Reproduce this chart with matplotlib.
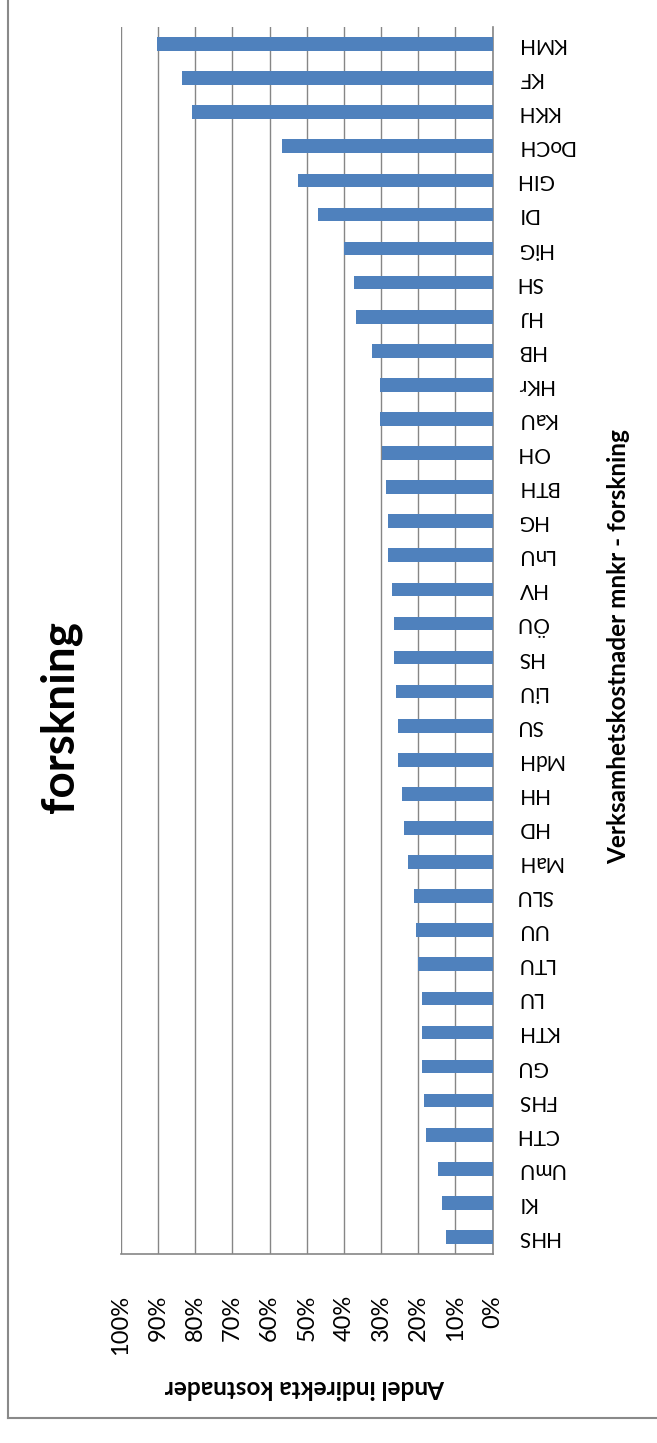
import matplotlib.pyplot as plt
from matplotlib.lines import Line2D
from matplotlib.ticker import MultipleLocator, PercentFormatter

plt.rcParams['font.family'] = ['Lato', 'DejaVu Sans']

# larosaten, nerifran och upp (HHS langst ner)
larosaten = ['HHS', 'KI', 'UmU', 'CTH', 'FHS', 'GU', 'KTH', 'LU', 'LTU', 'UU',
             'SLU', 'MaH', 'HD', 'HH', 'MdH', 'SU', 'LiU', 'HS', 'ÖU', 'HV',
             'LnU', 'HG', 'BTH', 'OH', 'KaU', 'HKr', 'HB', 'HJ', 'SH', 'HiG',
             'DI', 'GIH', 'DoCH', 'KKH', 'KF', 'KMH']
andel = [12.5, 13.6, 14.6, 17.9, 18.5, 19.0, 19.0, 19.0, 20.0, 20.6,
         21.1, 22.8, 23.9, 24.3, 25.5, 25.5, 25.9, 26.5, 26.5, 27.1,
         28.2, 28.2, 28.7, 29.8, 30.2, 30.2, 32.4, 36.7, 37.3, 39.9,
         47.0, 52.4, 56.6, 80.9, 83.6, 90.3]

W, H = 657, 1443
fig = plt.figure(figsize=(W / 100, H / 100), dpi=100)
ax = fig.add_axes([120.8 / W, 189 / H, 371.8 / W, 1227 / H])

grey = '#868686'
ax.barh(range(len(larosaten)), andel, height=0.4, color='#4F81BD', zorder=3)

ax.set_xlim(100, 0)
ax.set_ylim(-0.5, len(larosaten) - 0.5)
ax.xaxis.set_major_locator(MultipleLocator(10))
ax.xaxis.set_major_formatter(PercentFormatter(decimals=0))
ax.grid(axis='x', color=grey, linewidth=1.0, zorder=0)
ax.grid(axis='y', visible=False)

ax.yaxis.tick_right()
ax.set_yticks(range(len(larosaten)))
ax.set_yticklabels(larosaten, rotation=180, ha='left', va='center', fontsize=15)
ax.tick_params(axis='y', length=0, pad=17)
ax.tick_params(axis='x', length=0, pad=29.5, labelsize=17, labelrotation=90)
for lbl in ax.get_xticklabels():
    lbl.set_va('top')

for s in ['top', 'left']:
    ax.spines[s].set_visible(False)
for s in ['right', 'bottom']:
    ax.spines[s].set_color(grey)
    ax.spines[s].set_linewidth(1.2)

fig.text(61 / W, 1 - 717 / H, 'forskning', rotation=90, fontsize=33,
         fontweight='bold', ha='center', va='center')
fig.text(619 / W, 1 - 647 / H, 'Verksamhetskostnader mnkr - forskning',
         rotation=90, fontsize=17.5, fontweight='bold', ha='center', va='center')
fig.text(305 / W, 1 - 1388 / H, 'Andel indirekta kostnader', rotation=180,
         fontsize=17.5, fontweight='bold', ha='center', va='center')

# ram runt diagrammet (bara vanster och nederkant syns)
x0, y0 = 8 / W, 1 - 1418 / H
fig.add_artist(Line2D([x0, x0], [y0, 1.01], color='#898989', linewidth=1.5,
                      transform=fig.transFigure))
fig.add_artist(Line2D([x0, 1.01], [y0, y0], color='#898989', linewidth=1.5,
                      transform=fig.transFigure))

fig.savefig('out.png', dpi=100)
